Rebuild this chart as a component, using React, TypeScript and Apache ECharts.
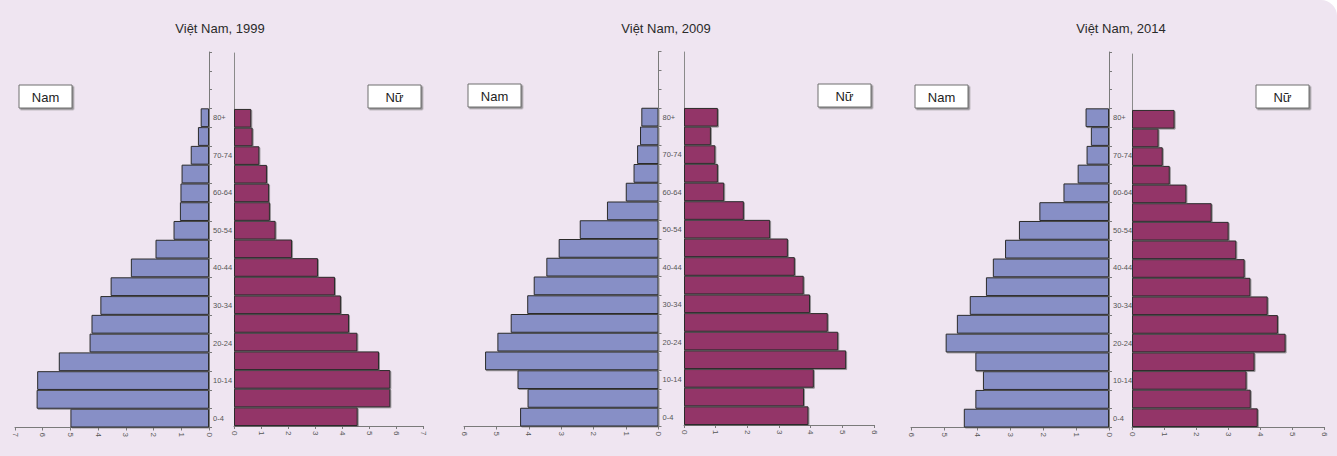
import React, { useEffect, useRef } from "react";
import * as echarts from "echarts";

const ageGroups = ["0-4", "5-9", "10-14", "15-19", "20-24", "25-29", "30-34", "35-39", "40-44", "45-49", "50-54", "55-59", "60-64", "65-69", "70-74", "75-79", "80+", "", "", ""];

const years = ["1999", "2009", "2014"];
const titles = ["Việt Nam, 1999", "Việt Nam, 2009", "Việt Nam, 2014"];
const axisMax = [7, 6, 6];

const men1999 = [5.0, 6.22, 6.2, 5.42, 4.31, 4.24, 3.92, 3.55, 2.82, 1.93, 1.28, 1.05, 1.03, 0.99, 0.66, 0.4, 0.3];
const women1999 = [4.58, 5.79, 5.79, 5.37, 4.57, 4.26, 3.96, 3.74, 3.11, 2.15, 1.54, 1.33, 1.3, 1.22, 0.94, 0.69, 0.64];
const men2009 = [4.27, 4.04, 4.35, 5.35, 4.97, 4.56, 4.05, 3.85, 3.46, 3.08, 2.43, 1.59, 1.01, 0.77, 0.66, 0.57, 0.53];
const women2009 = [3.93, 3.79, 4.1, 5.12, 4.87, 4.54, 3.98, 3.78, 3.5, 3.28, 2.72, 1.89, 1.27, 1.07, 0.99, 0.85, 1.07];
const men2014 = [4.4, 4.05, 3.82, 4.05, 4.95, 4.61, 4.22, 3.73, 3.52, 3.15, 2.73, 2.11, 1.38, 0.95, 0.68, 0.55, 0.71];
const women2014 = [3.93, 3.71, 3.58, 3.83, 4.8, 4.56, 4.24, 3.7, 3.52, 3.26, 3.02, 2.49, 1.7, 1.18, 0.96, 0.83, 1.33];

const menData = [men1999, men2009, men2014];
const womenData = [women1999, women2009, women2014];
const legendMen = "Nam";
const legendWomen = "Nữ";

// layout (pixels)
const leftGrids = [
  { left: 15, top: 52, width: 194, height: 375.5 },
  { left: 464, top: 51.5, width: 194.5, height: 375 },
  { left: 911, top: 52, width: 198, height: 375.5 },
];
const rightGrids = [
  { left: 234, top: 53, width: 189, height: 373 },
  { left: 684, top: 52, width: 190, height: 373 },
  { left: 1132, top: 54, width: 192, height: 373 },
];
const titlePos = [220, 666, 1121];
const namBoxes = [
  { x: 19, y: 85, w: 53, h: 23 },
  { x: 468, y: 84, w: 53, h: 23 },
  { x: 915, y: 85, w: 53, h: 23 },
];
const nuBoxes = [
  { x: 368, y: 85, w: 53, h: 23 },
  { x: 818, y: 84, w: 53, h: 23 },
  { x: 1256, y: 85, w: 53, h: 23 },
];

const MEN_COLOR = "#878fc6";
const WOMEN_COLOR = "#933667";
const AXIS_COLOR = "#7a7a7a";
const LABEL_COLOR = "#555";
const NARROW = "'Liberation Sans Narrow', 'Arial Narrow', 'Liberation Sans', Arial, sans-serif";
const SANS = "'Liberation Sans', Arial, sans-serif";

function buildOption() {
  const grid: any[] = [];
  const xAxis: any[] = [];
  const yAxis: any[] = [];
  const series: any[] = [];
  const graphic: any[] = [];

  for (let p = 0; p < 3; p++) {
    const gi = p * 2;
    grid.push({ ...leftGrids[p], containLabel: false });
    grid.push({ ...rightGrids[p], containLabel: false });

    const valueAxis = (gridIndex: number, inverse: boolean) => ({
      type: "value",
      gridIndex,
      inverse,
      min: 0,
      max: axisMax[p],
      interval: 1,
      axisLine: { show: true, lineStyle: { color: AXIS_COLOR, width: 1 } },
      axisTick: { show: true, length: 3, lineStyle: { color: AXIS_COLOR } },
      axisLabel: { rotate: -90, fontSize: 8, color: LABEL_COLOR, margin: 5, fontFamily: NARROW },
      splitLine: { show: false },
    });
    xAxis.push(valueAxis(gi, true));
    xAxis.push(valueAxis(gi + 1, false));

    yAxis.push({
      type: "category",
      gridIndex: gi,
      data: ageGroups,
      position: "right",
      boundaryGap: true,
      z: 5,
      axisLine: { show: true, lineStyle: { color: AXIS_COLOR, width: 1 } },
      axisTick: { show: true, interval: 0, length: 3, lineStyle: { color: AXIS_COLOR } },
      axisLabel: { interval: 1, fontSize: 7.5, color: LABEL_COLOR, margin: 4, fontFamily: NARROW },
      splitLine: { show: false },
    });
    yAxis.push({
      type: "category",
      gridIndex: gi + 1,
      data: ageGroups,
      position: "left",
      boundaryGap: true,
      axisLine: { show: true, lineStyle: { color: "#8a8a8a", width: 1 } },
      axisTick: { show: false },
      axisLabel: { show: false },
      splitLine: { show: false },
    });

    const barStyle = (color: string) => ({
      color,
      borderColor: "#2b2b2b",
      borderWidth: 1,
      shadowColor: "rgba(90,90,90,0.6)",
      shadowOffsetX: 1,
      shadowOffsetY: 1,
      shadowBlur: 1,
    });

    series.push({
      name: legendMen + " " + years[p],
      type: "bar",
      xAxisIndex: gi,
      yAxisIndex: gi,
      data: menData[p],
      barCategoryGap: 0,
      itemStyle: barStyle(MEN_COLOR),
      emphasis: { disabled: true },
    });
    series.push({
      name: legendWomen + " " + years[p],
      type: "bar",
      xAxisIndex: gi + 1,
      yAxisIndex: gi + 1,
      data: womenData[p],
      barCategoryGap: 0,
      itemStyle: barStyle(WOMEN_COLOR),
      emphasis: { disabled: true },
    });

    graphic.push({
      type: "text",
      x: titlePos[p],
      y: 28,
      style: {
        text: titles[p],
        fontSize: 13,
        fontFamily: SANS,
        fill: "#2a2a2a",
        textAlign: "center",
        textVerticalAlign: "middle",
      },
    });

    const box = (b: any, label: string) => ({
      type: "group",
      children: [
        {
          type: "rect",
          shape: { x: b.x, y: b.y, width: b.w, height: b.h },
          style: {
            fill: "#ffffff",
            stroke: "#6f6f6f",
            lineWidth: 1,
            shadowColor: "rgba(120,120,120,0.8)",
            shadowOffsetX: 1.5,
            shadowOffsetY: 1.5,
            shadowBlur: 1,
          },
        },
        {
          type: "text",
          x: b.x + b.w / 2,
          y: b.y + b.h / 2 + 1,
          style: {
            text: label,
            fontSize: 13,
            fontFamily: SANS,
            fill: "#222",
            textAlign: "center",
            textVerticalAlign: "middle",
          },
        },
      ],
    });
    graphic.push(box(namBoxes[p], legendMen));
    graphic.push(box(nuBoxes[p], legendWomen));
  }

  return {
    animation: false,
    backgroundColor: "transparent",
    grid,
    xAxis,
    yAxis,
    series,
    graphic,
  };
}

export default function App() {
  const ref = useRef<HTMLDivElement>(null);
  useEffect(() => {
    if (!ref.current) return;
    const chart = echarts.init(ref.current, undefined, { renderer: "svg" });
    chart.setOption(buildOption() as any);
    return () => chart.dispose();
  }, []);
  return (
    <div
      style={{
        position: "fixed",
        left: 0,
        top: 0,
        width: 1337,
        height: 456,
        background: "#ffffff",
      }}
    >
      <div
        style={{
          position: "absolute",
          left: 0,
          top: 0,
          width: 1337,
          height: 456,
          background: "#efe5f1",
          borderTopRightRadius: 16,
        }}
      />
      <div ref={ref} style={{ position: "absolute", left: 0, top: 0, width: 1337, height: 456 }} />
    </div>
  );
}
